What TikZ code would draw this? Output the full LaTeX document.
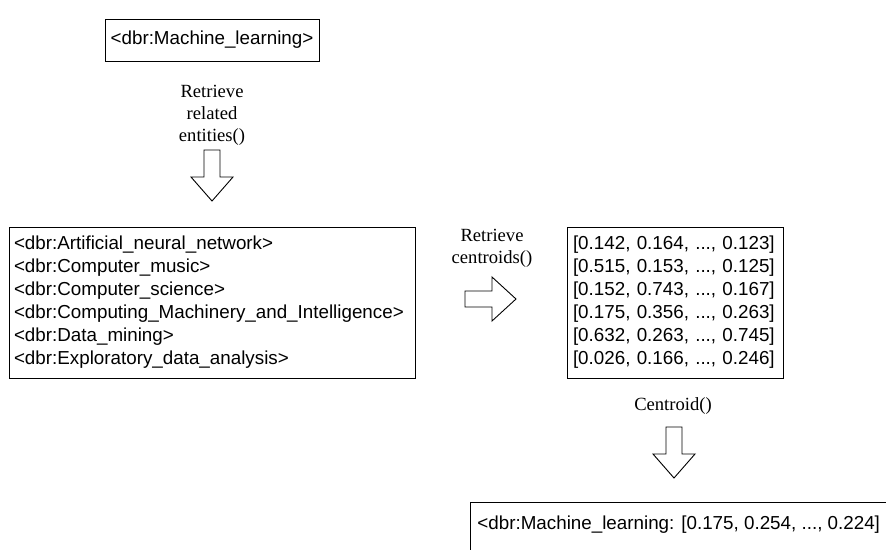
\documentclass[tikz,border=0pt]{standalone}
\usepackage{fontspec}
\setmainfont{Liberation Serif}
\newfontfamily\boxfont{Liberation Sans}
\begin{document}
\begin{tikzpicture}[x=1pt,y=-1pt,
  entitybox/.style={draw, line width=0.9pt, inner sep=0pt,
    font=\boxfont\fontsize{18.8}{23}\selectfont},
  steplabel/.style={align=center, inner sep=0pt,
    font=\fontsize{18.6}{22}\selectfont},
  blockarrow/.style={draw, line width=0.9pt, fill=white, line join=miter},
  downblock/.pic={\draw[blockarrow] (-8,0) -- (8,0) -- (8,27) -- (21,27)
    -- (0,51) -- (-21,27) -- (-8,27) -- cycle;},
  rightblock/.pic={\draw[blockarrow] (0,-8) -- (27,-8) -- (27,-22) -- (51,0)
    -- (27,22) -- (27,8) -- (0,8) -- cycle;}]
\useasboundingbox (0,0) rectangle (886,549);
\clip (0,0) rectangle (886,549);
\fill[white] (0,0) rectangle (886,549);

% query entity
\node (query) [entitybox, minimum width=214pt, minimum height=42pt]
  at (212,40) {<dbr:Machine\_learning>};

\node (lblrel) [steplabel] at (212,115) {Retrieve\\related\\entities()};
\coordinate (arr1) at (212,150);
\pic at (arr1) {downblock};

% related entities
\node (related) [entitybox, minimum width=406pt, minimum height=151pt,
  text width=396pt, align=left] at (212,302.5)
  {<dbr:Artificial\_neural\_network>\\
   <dbr:Computer\_music>\\
   <dbr:Computer\_science>\\
   <dbr:Computing\_Machinery\_and\_Intelligence>\\
   <dbr:Data\_mining>\\
   <dbr:Exploratory\_data\_analysis>};

\node (lblcen) [steplabel] at (492,248) {Retrieve\\centroids()};
\coordinate (arr2) at (465,299);
\pic at (arr2) {rightblock};

% centroid vectors
\node (vectors) [entitybox, minimum width=216pt, minimum height=151pt,
  text width=204pt, align=left] at (675,302.5)
  {{[0.142, 0.164, ..., 0.123]}\\
   {[0.515, 0.153, ..., 0.125]}\\
   {[0.152, 0.743, ..., 0.167]}\\
   {[0.175, 0.356, ..., 0.263]}\\
   {[0.632, 0.263, ..., 0.745]}\\
   {[0.026, 0.166, ..., 0.246]}};

\node (lblmean) [steplabel] at (673,406) {Centroid()};
\coordinate (arr3) at (674,427);
\pic at (arr3) {downblock};

% resulting entity vector
\node (result) [entitybox, anchor=north west, inner xsep=7pt, inner ysep=0pt,
  text height=27pt, text depth=60pt] at (470,502)
  {<dbr:Machine\_learning: [0.175, 0.254, ..., 0.224]};
\end{tikzpicture}
\end{document}
